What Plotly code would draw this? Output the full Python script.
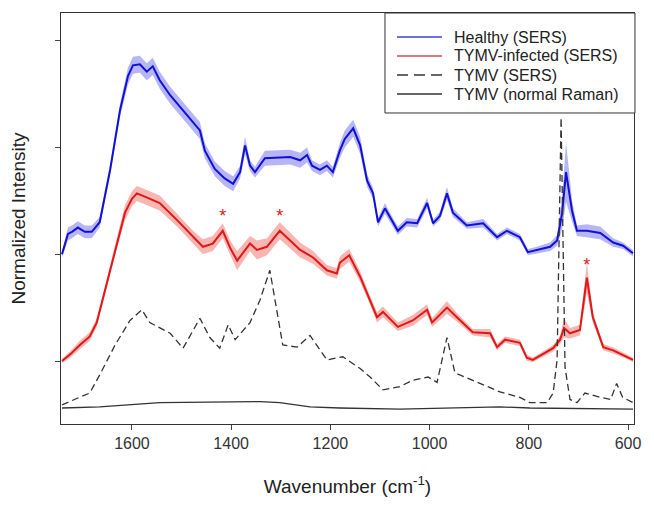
import plotly.graph_objects as go

# wavenumber (cm-1) and offset intensity
healthy_wn = [1741, 1729, 1721, 1709, 1695, 1681, 1665, 1644, 1624, 1608, 1598, 1584, 1570, 1558,
              1544, 1523, 1503, 1483, 1463, 1453, 1433, 1413, 1396, 1382, 1372, 1362, 1352, 1332,
              1281, 1261, 1247, 1237, 1221, 1207, 1195, 1181, 1171, 1154, 1140, 1126, 1114, 1104,
              1090, 1080, 1064, 1046, 1025, 1005, 993, 979, 965, 953, 925, 892, 864, 844, 818, 802,
              784, 757, 743, 733, 725, 713, 703, 683, 656, 630, 610, 590]
healthy_y = [1.00, 1.19, 1.21, 1.25, 1.21, 1.21, 1.30, 1.79, 2.35, 2.67, 2.77, 2.78, 2.71, 2.76,
             2.63, 2.49, 2.38, 2.27, 2.16, 1.97, 1.80, 1.71, 1.66, 1.77, 2.02, 1.83, 1.77, 1.90,
             1.91, 1.88, 1.93, 1.83, 1.79, 1.83, 1.77, 1.97, 2.08, 2.18, 2.02, 1.69, 1.57, 1.30,
             1.43, 1.35, 1.22, 1.30, 1.29, 1.48, 1.29, 1.36, 1.57, 1.39, 1.27, 1.29, 1.16, 1.22, 1.16, 1.02,
             1.04, 1.07, 1.13, 1.38, 1.77, 1.41, 1.22, 1.22, 1.20, 1.11, 1.08, 1.01]
healthy_sd = [0.03, 0.06, 0.06, 0.06, 0.06, 0.06, 0.05, 0.05, 0.06, 0.08, 0.08, 0.08, 0.08, 0.08,
              0.08, 0.08, 0.08, 0.08, 0.08, 0.07, 0.07, 0.07, 0.07, 0.06, 0.08, 0.05, 0.05, 0.07,
              0.07, 0.07, 0.07, 0.05, 0.05, 0.05, 0.05, 0.07, 0.08, 0.08, 0.08, 0.06, 0.05, 0.04,
              0.05, 0.04, 0.04, 0.04, 0.04, 0.05, 0.03, 0.04, 0.06, 0.04, 0.03, 0.04, 0.03, 0.03, 0.03, 0.03,
              0.03, 0.04, 0.05, 0.15, 0.28, 0.10, 0.05, 0.06, 0.06, 0.04, 0.03, 0.03]

infected_wn = [1741, 1725, 1705, 1685, 1671, 1654, 1634, 1614, 1600, 1590, 1574, 1544, 1509, 1477,
               1457, 1437, 1417, 1402, 1388, 1362, 1348, 1328, 1302, 1261, 1235, 1207, 1187, 1181,
               1162, 1140, 1120, 1106, 1094, 1064, 1034, 1005, 995, 965, 945, 913, 878, 864, 848,
               818, 804, 792, 751, 737, 729, 717, 697, 683, 671, 650, 630, 602, 590]
infected_y = [0.00, 0.06, 0.15, 0.23, 0.36, 0.66, 1.04, 1.39, 1.52, 1.57, 1.54, 1.48, 1.32, 1.16,
              1.07, 1.10, 1.22, 1.06, 0.94, 1.10, 1.04, 1.07, 1.22, 1.04, 0.97, 0.85, 0.82, 0.92,
              0.99, 0.79, 0.57, 0.41, 0.46, 0.32, 0.38, 0.48, 0.36, 0.50, 0.41, 0.27, 0.26, 0.13, 0.20,
              0.17, 0.03, 0.01, 0.12, 0.20, 0.31, 0.26, 0.29, 0.78, 0.41, 0.13, 0.10, 0.04, 0.01]
infected_sd = [0.02, 0.03, 0.04, 0.04, 0.04, 0.04, 0.05, 0.07, 0.07, 0.07, 0.07, 0.07, 0.06, 0.06,
               0.07, 0.07, 0.07, 0.07, 0.09, 0.07, 0.09, 0.08, 0.08, 0.07, 0.06, 0.05, 0.05, 0.06,
               0.06, 0.05, 0.04, 0.05, 0.05, 0.04, 0.05, 0.05, 0.04, 0.06, 0.04, 0.03, 0.04, 0.03, 0.03,
               0.03, 0.03, 0.02, 0.03, 0.04, 0.09, 0.05, 0.05, 0.14, 0.05, 0.03, 0.03, 0.02, 0.02]

tymv_wn = [1741, 1715, 1685, 1665, 1634, 1604, 1580, 1564, 1544, 1523, 1497, 1463, 1443, 1423, 1406,
           1392, 1362, 1342, 1322, 1308, 1296, 1267, 1241, 1207, 1175, 1140, 1120, 1094, 1060, 1034,
           1003, 985, 965, 949, 898, 858, 818, 798, 763, 751, 743, 735, 727, 717, 703, 687, 656,
           635, 623, 611, 590]
tymv_y = [-0.41, -0.36, -0.30, -0.13, 0.15, 0.38, 0.48, 0.36, 0.31, 0.26, 0.12, 0.40, 0.22, 0.12, 0.34,
          0.20, 0.36, 0.57, 0.85, 0.48, 0.15, 0.13, 0.24, 0.01, 0.04, -0.07, -0.15, -0.27, -0.24, -0.18,
          -0.15, -0.20, 0.22, -0.11, -0.21, -0.29, -0.34, -0.39, -0.39, -0.30, 0.01, 2.28, -0.06, -0.36,
          -0.39, -0.30, -0.34, -0.36, -0.21, -0.34, -0.39]

raman_wn = [1741, 1665, 1544, 1342, 1302, 1241, 1181, 1060, 858, 798, 590]
raman_y = [-0.44, -0.43, -0.39, -0.38, -0.39, -0.43, -0.44, -0.45, -0.43, -0.44, -0.45]

# significant bands marked on the infected spectrum
star_wn = [1417, 1302, 683]
star_y = [1.34, 1.34, 0.89]

x_ticks = [1600, 1400, 1200, 1000, 800, 600]

legend_names = ['Healthy (SERS)', 'TYMV-infected (SERS)', 'TYMV (SERS)', 'TYMV (normal Raman)']
legend_colors = ['#6f6fe6', '#d07f7f', '#666666', '#666666']
legend_dash = ['solid', 'solid', '11px,6px', 'solid']


def band(x, y, sd, fillcolor):
    upper = [a + b for a, b in zip(y, sd)]
    lower = [a - b for a, b in zip(y, sd)]
    return go.Scatter(x=x + x[::-1], y=upper + lower[::-1], fill='toself', fillcolor=fillcolor,
                      line=dict(width=0), hoverinfo='skip', showlegend=False)


fig = go.Figure()
fig.add_trace(band(healthy_wn, healthy_y, healthy_sd, 'rgba(110,110,240,0.5)'))
fig.add_trace(band(infected_wn, infected_y, infected_sd, 'rgba(240,110,100,0.5)'))
fig.add_trace(go.Scatter(x=healthy_wn, y=healthy_y, mode='lines', name=legend_names[0],
                         line=dict(color='#1010d8', width=2)))
fig.add_trace(go.Scatter(x=infected_wn, y=infected_y, mode='lines', name=legend_names[1],
                         line=dict(color='#e01818', width=2)))
fig.add_trace(go.Scatter(x=tymv_wn, y=tymv_y, mode='lines', name=legend_names[2],
                         line=dict(color='#333333', width=1.3, dash='7px,4px')))
fig.add_trace(go.Scatter(x=raman_wn, y=raman_y, mode='lines', name=legend_names[3],
                         line=dict(color='#333333', width=1.3)))
fig.add_trace(go.Scatter(x=star_wn, y=star_y, mode='text', text=['*'] * len(star_wn),
                         textposition='middle center', showlegend=False,
                         textfont=dict(size=18, color='#d82020')))

font = "Liberation Sans, Arial, sans-serif"

# legend drawn by hand so the row spacing matches the original (tighter than plotly's)
box_x0, box_x1, box_y0, box_y1 = 0.5654, 1.0017, 0.7567, 1.0
row_y = [0.9416, 0.8954, 0.8491, 0.8029]
fig.add_shape(type='rect', xref='paper', yref='paper', x0=box_x0, x1=box_x1, y0=box_y0, y1=box_y1,
              fillcolor='white', line=dict(color='#333333', width=1), layer='above')
for name, col, dash, ry in zip(legend_names, legend_colors, legend_dash, row_y):
    fig.add_shape(type='line', xref='paper', yref='paper', x0=0.5864, x1=0.6649, y0=ry, y1=ry,
                  line=dict(color=col, width=2, dash=dash), layer='above')
    fig.add_annotation(xref='paper', yref='paper', x=0.6824, y=ry, xanchor='left', yanchor='middle',
                       text=name, showarrow=False, font=dict(size=16, color='#222222'))

# page body adds 8px around the plot, so the figure is 8px smaller than the window
fig.update_layout(
    width=646, height=504,
    margin=dict(l=53, r=20, t=5, b=88),
    paper_bgcolor='white', plot_bgcolor='white',
    font=dict(family=font, color='#222222'),
    showlegend=False,
    xaxis=dict(range=[1743, 588], tickvals=x_ticks, ticks='outside', ticklen=5,
               showline=True, linecolor='#333333', linewidth=1, mirror=True, showgrid=False,
               zeroline=False, tickfont=dict(size=16, color='#333333'),
               title=dict(text='Wavenumber (cm<sup>-1</sup>)', font=dict(size=19), standoff=28)),
    yaxis=dict(range=[-0.59, 3.26], tickvals=[0, 1, 2, 3], ticks='outside', ticklen=5,
               showticklabels=False, showline=True, linecolor='#333333', linewidth=1, mirror=True,
               showgrid=False, zeroline=False,
               title=dict(text='Normalized Intensity', font=dict(size=19), standoff=24)),
)

fig.write_html("out.html")
